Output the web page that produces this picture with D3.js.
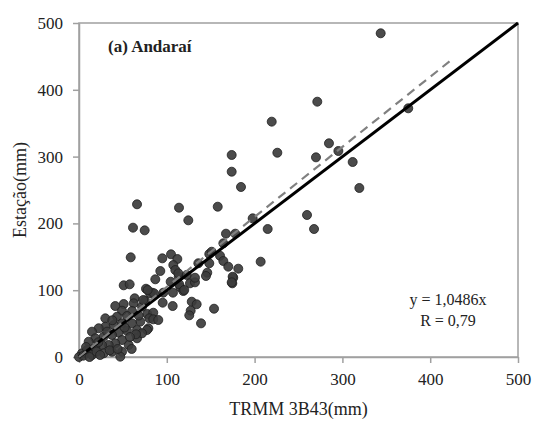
<!DOCTYPE html>
<html>
<head>
<meta charset="utf-8">
<script src="https://cdn.jsdelivr.net/npm/d3@7"></script>
<style>
  body { margin: 0; background: #fff; }
  text { font-family: "Liberation Serif", "Times New Roman", serif; fill: #222; }
</style>
</head>
<body>
<div id="chart"></div>
<script>
// TRMM 3B43 (x) vs station (y), mm
var trmm = [343.6,375,271.4,219.5,284.7,225.9,269.9,295.4,311.7,319.3,259.7,267.7,
  173.9,173.9,184.5,113.9,158,124.5,197.8,214.9,167.4,178,164.4,
  104.8,112,148.4,160.6,164.4,148.4,206.9,170,181.4,107.4,
  66.1,61.5,74.8,58.9,94.9,109.7,92.6,113.6,86.9,104.4,50.9,57.7,76.3,83.1,107,115.4,
  113.1,114.2,122.7,126.4,132.1,132.1,135.9,151.1,146.1,144.6,175.7,174.6,
  80.9,85.4,96,118.8,75.2,95.3,106.7,128.4,134,127.2,125.6,153.8,139,
  77.8,84.6,80.1,84.6,90.3,79,
  63.4,50.9,62.3,41.3,71.8,60.4,49,43.3,54.7,30,69.8,60.4,49,39.5,30,22.4,14.8,77.4,66.1,54.7,
  45.2,37.6,28.1,18.6,11,56.6,66.1,49,41.3,33.8,26.2,18.6,9.1,3.4,0,37.6,28.1,49,47,14.8,
  71.8,64.9,73.2,78.2,119.9,175,173.9,
  5,8,12,20,22,32,35,24,44,58,60,52,38,68];
var estacao = [484.6,372.3,382.2,352.3,319.9,305.8,298.9,308.4,291.9,253,212.6,191.6,
  302.4,277.4,254.5,223.5,225,204.6,207.6,191.6,184.6,184.6,170.2,
  153.7,146.7,154.2,151.6,143.7,140.3,142.7,135.2,132.2,137.7,
  228.6,193.6,189.6,149.2,147.7,130.2,128.7,120.2,116.3,112.7,107.3,108.8,102.2,96.3,96.3,104.3,
  125.3,108.8,122.8,110.3,111.8,118.7,140.3,157.6,126.2,121.3,118.7,110.3,
  95.4,95.4,96.3,98.8,84.3,81.3,76.3,82.8,78.9,69.3,62.4,72.3,50.4,
  64.4,66.3,57.9,56.4,55.4,43,
  87.9,79.3,80.4,76.3,75.3,68.9,69.3,60.3,61.4,57.9,52.9,50.4,50.4,47.9,45.4,43,37.9,40.4,40.4,39.4,
  36.4,32.9,30.4,28,22.9,18,28,25.4,20.5,18,18,13,10.5,5.5,0,7.9,5.5,7.9,0.5,3,
  35.5,34,85.3,100.3,100.3,120.2,111.8,
  2,15,0,8,22,38,10,3,12,30,12,44,55,62];
var ticks = [0, 100, 200, 300, 400, 500];
var slope = 1.0486, fitEnd = 425;
var panel = "(a) Andaraí";
var eqLines = ["y = 1,0486x", "R = 0,79"];

var W = 534, H = 421;
var m = {left: 79, right: 16, top: 23, bottom: 64};
var svg = d3.select("#chart").append("svg").attr("width", W).attr("height", H);

var x = d3.scaleLinear().domain([0, 500]).range([m.left, W - m.right]);
var y = d3.scaleLinear().domain([0, 500]).range([H - m.bottom, m.top]);

var axisColor = "#a0a0a0";

// box
svg.append("rect")
  .attr("x", x(0)).attr("y", y(500))
  .attr("width", x(500) - x(0)).attr("height", y(0) - y(500))
  .attr("fill", "none").attr("stroke", axisColor).attr("stroke-width", 1.5);

var gx = svg.append("g").attr("transform", "translate(0," + y(0) + ")")
  .call(d3.axisBottom(x).tickValues(ticks).tickSize(6).tickSizeOuter(0).tickPadding(10));
var gy = svg.append("g").attr("transform", "translate(" + x(0) + ",0)")
  .call(d3.axisLeft(y).tickValues(ticks).tickSize(6).tickSizeOuter(0).tickPadding(10));
[gx, gy].forEach(function(g){
  g.select(".domain").attr("stroke", axisColor).attr("stroke-width", 1.5);
  g.selectAll(".tick line").attr("stroke", axisColor).attr("stroke-width", 1.5);
  g.selectAll(".tick text").attr("font-size", 17).attr("font-family", "Liberation Serif").attr("fill", "#222");
});

// points
var pts = trmm.map(function(v, i){ return {x: v, y: estacao[i]}; });
svg.append("g").selectAll("circle").data(pts).enter().append("circle")
  .attr("cx", function(d){ return x(d.x); })
  .attr("cy", function(d){ return y(d.y); })
  .attr("r", 4.5)
  .attr("fill", "#3c3c3c")
  .attr("stroke", "#1e1e1e")
  .attr("stroke-width", 0.8)
  .attr("fill-opacity", 0.92);

// 1:1 line
svg.append("line")
  .attr("x1", x(0)).attr("y1", y(0)).attr("x2", x(500)).attr("y2", y(500))
  .attr("stroke", "#000").attr("stroke-width", 3);

// regression line
svg.append("line")
  .attr("x1", x(0)).attr("y1", y(0)).attr("x2", x(fitEnd)).attr("y2", y(fitEnd * slope))
  .attr("stroke", "#808080").attr("stroke-width", 2.2).attr("stroke-dasharray", "9,6");

svg.append("text").attr("x", 108).attr("y", 52)
  .attr("font-size", 17).attr("font-weight", "bold").text(panel);

svg.selectAll(".eq").data(eqLines).enter().append("text")
  .attr("x", 448).attr("y", function(d, i){ return 305 + i * 21; })
  .attr("text-anchor", "middle").attr("font-size", 16).text(function(d){ return d; });

svg.append("text").attr("x", (x(0) + x(500)) / 2).attr("y", 415)
  .attr("text-anchor", "middle").attr("font-size", 18).text("TRMM 3B43(mm)");

svg.append("text")
  .attr("transform", "translate(26," + (y(0) + y(500)) / 2 + ") rotate(-90)")
  .attr("text-anchor", "middle").attr("font-size", 18).text("Estação(mm)");
</script>
</body>
</html>
